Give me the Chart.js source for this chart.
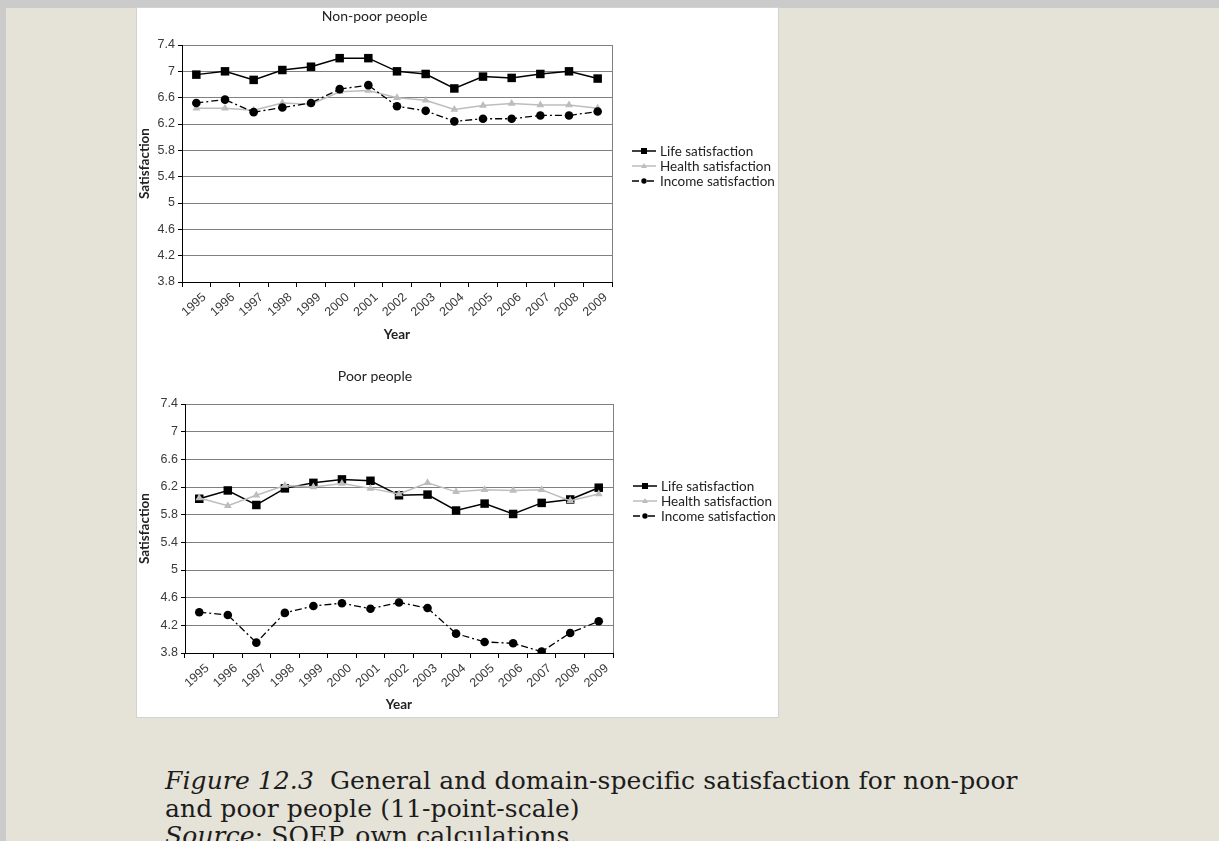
<!DOCTYPE html>
<html>
<head>
<meta charset="utf-8">
<script src="https://cdn.jsdelivr.net/npm/chart.js@4.4.1/dist/chart.umd.min.js"></script>
<style>
  html, body { margin: 0; padding: 0; }
  body { width: 1219px; height: 841px; background: #e5e2d8; position: relative; overflow: hidden; }
  #topbar { position: absolute; left: 0; top: 0; width: 1219px; height: 8px; background: #cbcbcb; }
  #leftbar { position: absolute; left: 0; top: 0; width: 6px; height: 841px; background: #cbcbcb; }
  #panel { position: absolute; left: 137px; top: 8px; width: 641px; height: 709px; background: #fff;
           box-shadow: 0 0 0 1px #d2d2d2; }
  canvas { position: absolute; left: 0; }
  #nonPoor { top: 0; }
  #poor { top: 352px; }
  .caption { position: absolute; left: 165px; font-family: "DejaVu Serif", serif; font-size: 25px; line-height: 28px;
             letter-spacing: 0.1px; color: #1c1c1c; white-space: nowrap; }
  .caption i { font-style: italic; }
</style>
</head>
<body>
<div id="topbar"></div>
<div id="leftbar"></div>
<div id="panel">
  <canvas id="nonPoor" width="641" height="352"></canvas>
  <canvas id="poor" width="641" height="357"></canvas>
</div>
<div class="caption" style="top:767px"><i>Figure 12.3</i>&nbsp; General and domain-specific satisfaction for non-poor</div>
<div class="caption" style="top:795px">and poor people (11-point-scale)</div>
<div class="caption" style="top:822px"><i>Source</i>: SOEP, own calculations.</div>

<script>
const years = ['1995', '1996', '1997', '1998', '1999', '2000', '2001', '2002', '2003', '2004', '2005', '2006', '2007', '2008', '2009'];
const yTicks = [3.8, 4.2, 4.6, 5, 5.4, 5.8, 6.2, 6.6, 7, 7.4];
const seriesNames = ['Life satisfaction', 'Health satisfaction', 'Income satisfaction'];

// Non-poor people
const nonPoorLife = [6.95, 7.0, 6.87, 7.02, 7.07, 7.2, 7.2, 7.0, 6.96, 6.74, 6.92, 6.9, 6.96, 7.0, 6.89];
const nonPoorHealth = [6.44, 6.44, 6.41, 6.52, 6.5, 6.69, 6.71, 6.6, 6.56, 6.42, 6.48, 6.51, 6.49, 6.49, 6.44];
const nonPoorIncome = [6.52, 6.57, 6.38, 6.45, 6.52, 6.73, 6.79, 6.47, 6.4, 6.24, 6.28, 6.28, 6.33, 6.33, 6.39];

// Poor people
const poorLife = [6.03, 6.15, 5.94, 6.18, 6.26, 6.31, 6.29, 6.08, 6.09, 5.86, 5.96, 5.81, 5.97, 6.02, 6.19];
const poorHealth = [6.04, 5.93, 6.08, 6.22, 6.2, 6.25, 6.18, 6.1, 6.26, 6.13, 6.16, 6.15, 6.16, 6.0, 6.1];
const poorIncome = [4.39, 4.35, 3.95, 4.38, 4.48, 4.52, 4.44, 4.53, 4.45, 4.08, 3.96, 3.94, 3.82, 4.09, 4.26];

const tickFont = { family: '"Liberation Sans", Arial, sans-serif', size: 12.5 };
const labelFont = { family: 'Lato, "Open Sans", sans-serif', size: 13.5, weight: 'bold' };
const gridGray = '#808080';

// Legend to the right: short line with the marker in the middle, like Excel
const sideLegend = {
    id: 'sideLegend',
    afterDraw(chart, args, opts) {
        const ctx = chart.ctx;
        ctx.save();
        ctx.font = '13.5px Lato, "Open Sans", sans-serif';
        ctx.textBaseline = 'middle';
        chart.data.datasets.forEach((ds, i) => {
            const x = opts.x;
            const y = opts.y + i * opts.gap;
            ctx.strokeStyle = ds.borderColor;
            ctx.lineWidth = ds.borderWidth;
            ctx.setLineDash(ds.borderDash || []);
            ctx.beginPath();
            ctx.moveTo(x, y);
            ctx.lineTo(x + 24, y);
            ctx.stroke();
            ctx.setLineDash([]);
            ctx.fillStyle = ds.pointBackgroundColor;
            const cx = x + 12, r = 3;
            ctx.beginPath();
            if (ds.pointStyle === 'rect') {
                ctx.rect(cx - r, y - r, 2 * r, 2 * r);
            } else if (ds.pointStyle === 'triangle') {
                ctx.moveTo(cx, y - r);
                ctx.lineTo(cx + r, y + r * 0.7);
                ctx.lineTo(cx - r, y + r * 0.7);
                ctx.closePath();
            } else {
                ctx.arc(cx, y, r * 0.9, 0, Math.PI * 2);
            }
            ctx.fill();
            ctx.fillStyle = '#222';
            ctx.fillText(ds.label, x + 28, y + 1);
        });
        ctx.restore();
    }
};

// gray frame line on the right of the plot area
const rightFrame = {
    id: 'rightFrame',
    beforeDatasetsDraw(chart) {
        const { ctx, chartArea } = chart;
        ctx.save();
        ctx.strokeStyle = gridGray;
        ctx.lineWidth = 1;
        ctx.beginPath();
        ctx.moveTo(Math.round(chartArea.right) + 0.5, chartArea.top);
        ctx.lineTo(Math.round(chartArea.right) + 0.5, chartArea.bottom);
        ctx.stroke();
        ctx.restore();
    }
};

function makeDatasets(life, health, income) {
    return [
        {
            label: seriesNames[0], data: life, order: 3,
            borderColor: '#000', backgroundColor: '#000', pointBackgroundColor: '#000',
            borderWidth: 1.5, pointStyle: 'rect', pointRadius: 6, pointBorderWidth: 0
        },
        {
            label: seriesNames[1], data: health, order: 2,
            borderColor: '#bdbdbd', backgroundColor: '#bdbdbd', pointBackgroundColor: '#bdbdbd',
            borderWidth: 1.5, pointStyle: 'triangle', pointRadius: 4.5, pointBorderWidth: 0
        },
        {
            label: seriesNames[2], data: income, order: 1,
            borderColor: '#000', backgroundColor: '#000', pointBackgroundColor: '#000',
            borderWidth: 1.3, borderDash: [7, 3, 2, 3], pointStyle: 'circle', pointRadius: 4.3, pointBorderWidth: 0
        }
    ];
}

function makeChart(id, title, datasets, g) {
    const canvas = document.getElementById(id);
    return new Chart(canvas, {
        type: 'line',
        data: { labels: years, datasets },
        options: {
            responsive: false,
            animation: false,
            layout: { padding: { left: 0, top: 0, right: canvas.width - g.plotRight, bottom: 0 } },
            elements: { line: { tension: 0 } },
            plugins: {
                legend: { display: false },
                tooltip: { enabled: false },
                title: {
                    display: true, text: title, color: '#222',
                    font: { family: 'Lato, "Open Sans", sans-serif', size: 14, weight: 'normal', lineHeight: 1.2 },
                    padding: { top: g.titleTop, bottom: g.plotTop - g.titleTop - 16.8 }
                },
                sideLegend: { x: g.plotRight + 20, y: g.legendY, gap: 15 }
            },
            scales: {
                x: {
                    offset: true,
                    grid: { display: true, drawOnChartArea: false, offset: true, color: '#000', tickLength: 5 },
                    border: { color: '#000', width: 1 },
                    ticks: { font: tickFont, color: '#3a3a3a', minRotation: 42, maxRotation: 42, autoSkip: false, padding: 3, labelOffset: 8 },
                    title: { display: true, text: 'Year', color: '#222', font: labelFont, padding: { top: 0, bottom: g.yearPad } },
                    afterFit(scale) { scale.height = canvas.height - g.plotBottom; }
                },
                y: {
                    min: 3.8, max: 7.4,
                    afterBuildTicks(scale) { scale.ticks = yTicks.map(v => ({ value: v })); },
                    grid: { color: gridGray, tickColor: '#000', tickLength: 4 },
                    border: { color: '#000', width: 1 },
                    ticks: { font: tickFont, color: '#3a3a3a', padding: 3, callback: v => String(v) },
                    title: { display: true, text: 'Satisfaction', color: '#222', font: labelFont, padding: { top: 0, bottom: 0 } },
                    afterFit(scale) { scale.width = g.plotLeft; }
                }
            }
        },
        plugins: [sideLegend, rightFrame]
    });
}

makeChart('nonPoor', 'Non-poor people', makeDatasets(nonPoorLife, nonPoorHealth, nonPoorIncome),
    { plotLeft: 45, plotRight: 475, plotTop: 37, plotBottom: 274, titleTop: 0, yearPad: 17, legendY: 143 });

makeChart('poor', 'Poor people', makeDatasets(poorLife, poorHealth, poorIncome),
    { plotLeft: 48, plotRight: 476, plotTop: 44, plotBottom: 293, titleTop: 8, yearPad: 4, legendY: 126 });
</script>
</body>
</html>
